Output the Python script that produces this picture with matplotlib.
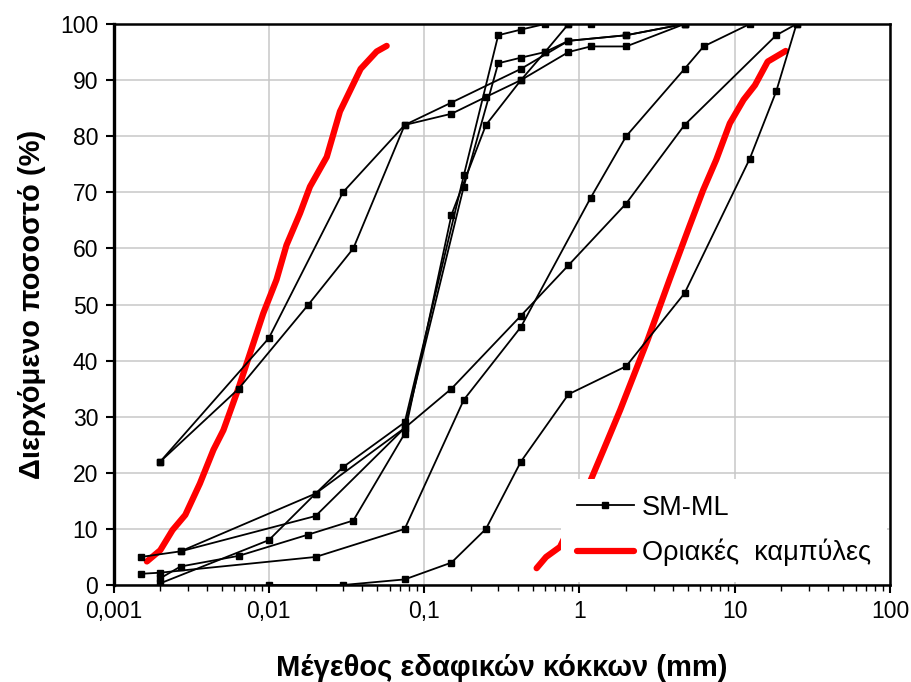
import numpy as np
import matplotlib.pyplot as plt
from matplotlib.ticker import FixedLocator, LogLocator, NullFormatter

plt.rcParams['font.family'] = ['Liberation Sans', 'DejaVu Sans']

# Κοκκομετρικές καμπύλες SM-ML (μέγεθος σε mm, διερχόμενο %)
c1_d = [0.002, 0.01, 0.03, 0.075, 0.15, 0.42, 0.85, 2.0, 4.75]
c1_p = [22, 44, 70, 82, 86, 92, 97, 98, 100]

c2_d = [0.002, 0.0064, 0.018, 0.035, 0.075, 0.15, 0.25, 0.42, 0.6, 0.85]
c2_p = [22, 35, 50, 60, 82, 84, 87, 90, 95, 100]

s1_d = [0.002, 0.0027, 0.0064, 0.018, 0.035, 0.075, 0.15, 0.25, 0.42, 0.85, 1.18, 2.0, 4.75]
s1_p = [1.2, 3.3, 5.2, 9, 11.5, 27, 66, 82, 90, 95, 96, 96, 100]

s2_d = [0.0027, 0.02, 0.075, 0.18, 0.3, 0.42, 0.6, 0.85, 2.0, 4.75]
s2_p = [6, 12.3, 28, 71, 93, 94, 95, 97, 98, 100]

s3_d = [0.002, 0.01, 0.02, 0.03, 0.075, 0.18, 0.3, 0.42, 0.6, 0.85, 1.18]
s3_p = [0.3, 8, 16.3, 21, 29, 73, 98, 99, 100, 100, 100]

m1_d = [0.0015, 0.0027, 0.02, 0.075, 0.15, 0.42, 0.85, 2.0, 4.75, 18.5, 25.0]
m1_p = [5, 6, 16.3, 28, 35, 48, 57, 68, 82, 98, 100]

m2_d = [0.0015, 0.002, 0.02, 0.075, 0.18, 0.42, 1.18, 2.0, 4.75, 6.3, 12.5]
m2_p = [2, 2.2, 5, 10, 33, 46, 69, 80, 92, 96, 100]

g_d = [0.01, 0.03, 0.075, 0.15, 0.25, 0.42, 0.85, 2.0, 4.75, 12.5, 18.5, 25.0]
g_p = [0, 0, 1, 4, 10, 22, 34, 39, 52, 76, 88, 100]

samples = [(c1_d, c1_p), (c2_d, c2_p), (s1_d, s1_p), (s2_d, s2_p),
           (s3_d, s3_p), (m1_d, m1_p), (m2_d, m2_p), (g_d, g_p)]

# Οριακές καμπύλες
lim1_d = [0.00164, 0.002, 0.0024, 0.0029, 0.0036, 0.0044, 0.0051, 0.0064, 0.0092,
          0.0112, 0.013, 0.0159, 0.0184, 0.0236, 0.0287, 0.0390, 0.0495, 0.0574]
lim1_p = [4.2, 6.2, 9.8, 12.5, 18.1, 24.1, 27.6, 35.2, 48.4,
          54.4, 60.6, 66.3, 71, 76.3, 84.4, 92, 95.1, 96.1]
lim2_d = [0.53, 0.61, 0.75, 0.91, 1.17, 1.43, 1.83, 2.75, 3.8, 5.1, 6.26,
          7.6, 9.3, 11.4, 13.5, 16.3, 21.3]
lim2_p = [3.0, 5.0, 6.8, 11.6, 18.4, 24.1, 31.2, 43.7, 54.4, 63.9, 70.4,
          75.8, 82.3, 86.5, 89.1, 93.3, 95.2]

xtick_vals = [0.001, 0.01, 0.1, 1, 10, 100]
xtick_labels = ['0,001', '0,01', '0,1', '1', '10', '100']

fig = plt.figure(figsize=(9.11, 6.82), dpi=100)
ax = fig.add_axes([0.1246, 0.1422, 0.8524, 0.8226])

for i, (d, p) in enumerate(samples):
    ax.plot(d, p, color='black', lw=1.3, marker='s', markersize=5,
            label='SM-ML' if i == 0 else None, zorder=3)

ax.plot(lim1_d, lim1_p, color='#ff0000', lw=4.5, solid_capstyle='round',
        label='Οριακές  καμπύλες', zorder=2)
ax.plot(lim2_d, lim2_p, color='#ff0000', lw=4.5, solid_capstyle='round', zorder=2)

ax.set_xscale('log')
ax.set_xlim(0.001, 100)
ax.set_ylim(0, 100)
ax.xaxis.set_major_locator(FixedLocator(xtick_vals))
ax.set_xticklabels(xtick_labels)
ax.xaxis.set_minor_locator(LogLocator(base=10, subs=np.arange(2, 10)))
ax.xaxis.set_minor_formatter(NullFormatter())
ax.set_yticks(np.arange(0, 101, 10))

ax.grid(True, which='major', color='#c8c8c8', lw=1.1)
ax.set_axisbelow(True)
ax.tick_params(axis='both', which='major', labelsize=16.5, direction='out',
               length=6, width=1.5, pad=5)
ax.tick_params(axis='x', which='minor', direction='out', length=4, width=1)
for s in ax.spines.values():
    s.set_linewidth(1.8)
ax.spines['left'].set_linewidth(2.4)

ax.set_xlabel('Μέγεθος εδαφικών κόκκων (mm)', fontsize=21, fontweight='bold', labelpad=22)
ax.set_ylabel('Διερχόμενο ποσοστό (%)', fontsize=21, fontweight='bold', labelpad=10)

leg = ax.legend(loc='lower right', fontsize=19.5, frameon=True, framealpha=1,
                edgecolor='none', fancybox=False, borderaxespad=0.1,
                handlelength=2.1, handletextpad=0.3, labelspacing=0.65,
                borderpad=0.6)

fig.savefig('out.png', dpi=100)
